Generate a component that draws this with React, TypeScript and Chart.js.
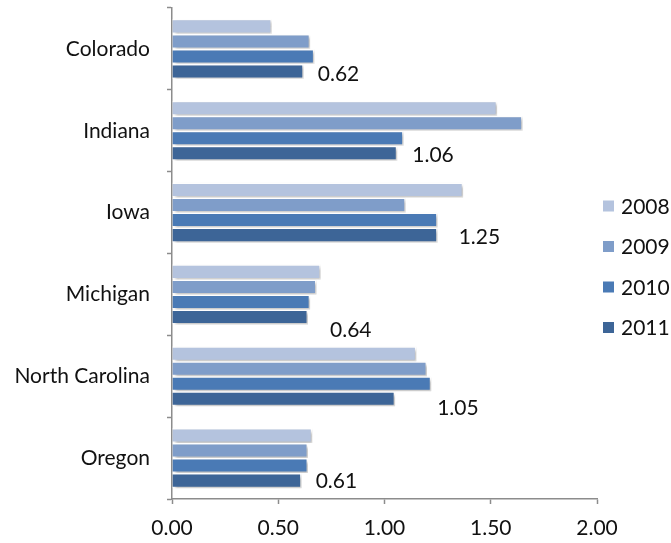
import React, { useEffect, useRef } from "react";
import { Chart, registerables } from "chart.js";

Chart.register(...registerables);

const categories = ["Colorado", "Indiana", "Iowa", "Michigan", "North Carolina", "Oregon"];
const seriesNames = ["2008", "2009", "2010", "2011"];
const values2008 = [0.47, 1.53, 1.37, 0.70, 1.15, 0.66];
const values2009 = [0.65, 1.65, 1.10, 0.68, 1.20, 0.64];
const values2010 = [0.67, 1.09, 1.25, 0.65, 1.22, 0.64];
const values2011 = [0.62, 1.06, 1.25, 0.64, 1.05, 0.61];
const seriesColors = ["#B4C3DE", "#7F9DC9", "#4A7AB5", "#3D6597"];
const xTicks = [0, 0.5, 1, 1.5, 2];

// style: manual nudges of the value labels (px), as placed in the original
const labelNudgeX = [14, 15, 21, 22, 42, 14];
const labelNudgeY = [2, 1, 1, 12, 8, 0];

const FONT = "Lato";
const FONT_SIZE = 21;
const TEXT = "#111111";
const AXIS = "#8C8C8C";

const shadowPlugin = {
  id: "barShadow",
  beforeDatasetDraw(chart: any) {
    const ctx = chart.ctx;
    ctx.save();
    ctx.shadowColor = "rgba(0,0,0,0.28)";
    ctx.shadowBlur = 3;
    ctx.shadowOffsetX = 2;
    ctx.shadowOffsetY = 2;
  },
  afterDatasetDraw(chart: any) {
    chart.ctx.restore();
  },
};

const labelPlugin = {
  id: "lastLabels",
  afterDatasetsDraw(chart: any) {
    const ctx = chart.ctx;
    const idx = chart.data.datasets.length - 1;
    const meta = chart.getDatasetMeta(idx);
    const data = chart.data.datasets[idx].data;
    ctx.save();
    ctx.font = `${FONT_SIZE}px ${FONT}`;
    ctx.fillStyle = TEXT;
    ctx.textAlign = "left";
    ctx.textBaseline = "middle";
    meta.data.forEach((el: any, i: number) => {
      ctx.fillText(
        Number(data[i]).toFixed(2),
        el.x + (labelNudgeX[i] ?? 14),
        el.y + 1 + (labelNudgeY[i] ?? 0)
      );
    });
    ctx.restore();
  },
};

const legendPlugin = {
  id: "sideLegend",
  afterDraw(chart: any) {
    const ctx = chart.ctx;
    ctx.save();
    ctx.font = `${FONT_SIZE}px ${FONT}`;
    ctx.textAlign = "left";
    ctx.textBaseline = "middle";
    chart.data.datasets.forEach((ds: any, i: number) => {
      const cy = 206 + i * 40.5;
      ctx.fillStyle = ds.backgroundColor;
      ctx.fillRect(603, cy - 5.5, 11, 11);
      ctx.fillStyle = TEXT;
      ctx.fillText(ds.label, 621, cy + 1);
    });
    ctx.restore();
  },
};

export default function App() {
  const ref = useRef<HTMLCanvasElement>(null);
  useEffect(() => {
    if (!ref.current) return;
    const allValues = [values2008, values2009, values2010, values2011];
    const chart = new Chart(ref.current, {
      type: "bar",
      data: {
        labels: categories,
        datasets: seriesNames.map((name, i) => ({
          label: name,
          data: allValues[i],
          backgroundColor: seriesColors[i],
          borderColor: "#FFFFFF",
          borderWidth: 1.5,
          barPercentage: 1,
          categoryPercentage: 0.735,
        })),
      },
      options: {
        indexAxis: "y",
        animation: false,
        responsive: true,
        maintainAspectRatio: false,
        layout: { padding: { top: 8, right: 74, left: 0, bottom: 0 } },
        plugins: {
          legend: { display: false },
          tooltip: { enabled: false },
        },
        scales: {
          x: {
            min: 0,
            max: 2,
            afterBuildTicks: (scale: any) => {
              scale.ticks = xTicks.map((v) => ({ value: v }));
            },
            afterFit: (scale: any) => {
              scale.height = 44;
              scale.paddingLeft = 0;
              scale.paddingRight = 0;
            },
            ticks: {
              callback: (v: any) => Number(v).toFixed(2),
              font: { family: FONT, size: FONT_SIZE },
              color: TEXT,
              padding: 12,
              maxRotation: 0,
            },
            grid: {
              drawOnChartArea: false,
              drawTicks: true,
              tickLength: 5,
              tickColor: AXIS,
              tickWidth: 1.5,
            },
            border: { display: true, color: AXIS, width: 1.5 },
          },
          y: {
            afterFit: (scale: any) => {
              scale.width = 172;
              scale.paddingTop = 0;
              scale.paddingBottom = 0;
            },
            ticks: {
              font: { family: FONT, size: FONT_SIZE },
              color: TEXT,
              padding: 17,
            },
            grid: {
              offset: true,
              drawOnChartArea: false,
              drawTicks: true,
              tickLength: 5,
              tickColor: AXIS,
              tickWidth: 1.5,
            },
            border: { display: true, color: AXIS, width: 1.5 },
          },
        },
      },
      plugins: [shadowPlugin, labelPlugin, legendPlugin],
    } as any);
    return () => chart.destroy();
  }, []);
  return (
    <div style={{ position: "absolute", left: 0, top: 0, width: 671, height: 543, background: "#fff" }}>
      <canvas ref={ref} />
    </div>
  );
}
